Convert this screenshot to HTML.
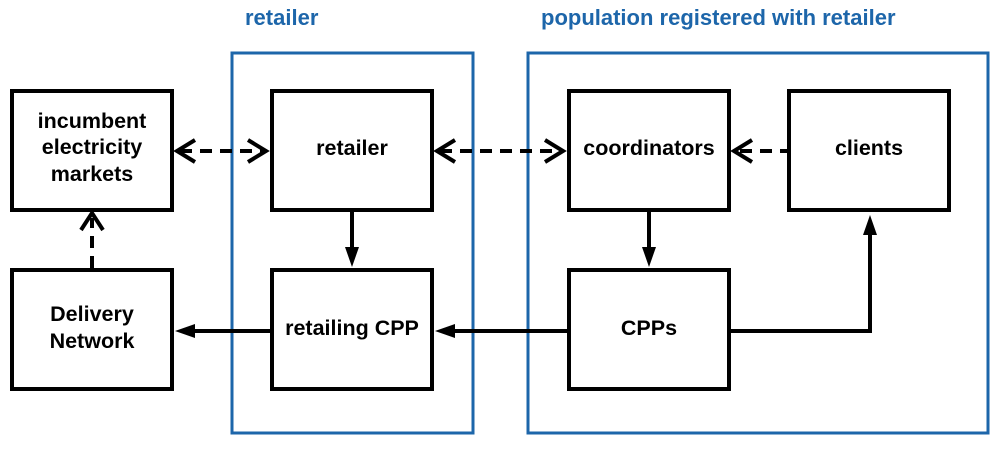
<!DOCTYPE html>
<html><head><style>body{margin:0;background:#fff}</style></head><body>
<svg width="1001" height="446" xmlns="http://www.w3.org/2000/svg" font-family="Liberation Sans, sans-serif" font-weight="bold">
<rect x="232" y="53" width="241" height="380" fill="none" stroke="#1d66aa" stroke-width="3"/>
<rect x="528" y="53" width="460" height="380" fill="none" stroke="#1d66aa" stroke-width="3"/>
<text x="245" y="25" fill="#1d66aa" font-size="22">retailer</text>
<text x="541" y="25" fill="#1d66aa" font-size="22">population registered with retailer</text>
<g fill="none" stroke="#000" stroke-width="4">
<rect x="12" y="91" width="160" height="119"/>
<rect x="272" y="91" width="160" height="119"/>
<rect x="569" y="91" width="160" height="119"/>
<rect x="789" y="91" width="160" height="119"/>
<rect x="12" y="270" width="160" height="119"/>
<rect x="272" y="270" width="160" height="119"/>
<rect x="569" y="270" width="160" height="119"/>
<g stroke-dasharray="12,8">
<line x1="180" y1="151" x2="266" y2="151"/>
<line x1="440" y1="151" x2="562" y2="151"/>
<line x1="740" y1="151" x2="789" y2="151"/>
<line x1="92" y1="268" x2="92" y2="218"/>
</g>
<path d="M195,140 L177,151 L195,162 M248,140 L266,151 L248,162 M455,140 L437,151 L455,162 M545,140 L563,151 L545,162 M752,140 L734,151 L752,162 M81,230 L92,213 L103,230"/>
<line x1="352" y1="210" x2="352" y2="252"/>
<line x1="649" y1="210" x2="649" y2="252"/>
<line x1="272" y1="331" x2="192" y2="331"/>
<line x1="569" y1="331" x2="452" y2="331"/>
<path d="M729,331 L870,331 L870,232"/>
</g>
<g fill="#000">
<path d="M345,247 L359,247 L352,267Z"/>
<path d="M642,247 L656,247 L649,267Z"/>
<path d="M195,324 L195,338 L175,331Z"/>
<path d="M455,324 L455,338 L435,331Z"/>
<path d="M863,235 L877,235 L870,215Z"/>
</g>
<g font-size="21.5" text-anchor="middle" fill="#000">
<text x="92" y="128">incumbent</text>
<text x="92" y="154">electricity</text>
<text x="92" y="181">markets</text>
<text x="352" y="155">retailer</text>
<text x="649" y="155">coordinators</text>
<text x="869" y="155">clients</text>
<text x="92" y="321">Delivery</text>
<text x="92" y="348">Network</text>
<text x="352" y="335">retailing CPP</text>
<text x="649" y="335">CPPs</text>
</g>
</svg>
</body></html>
